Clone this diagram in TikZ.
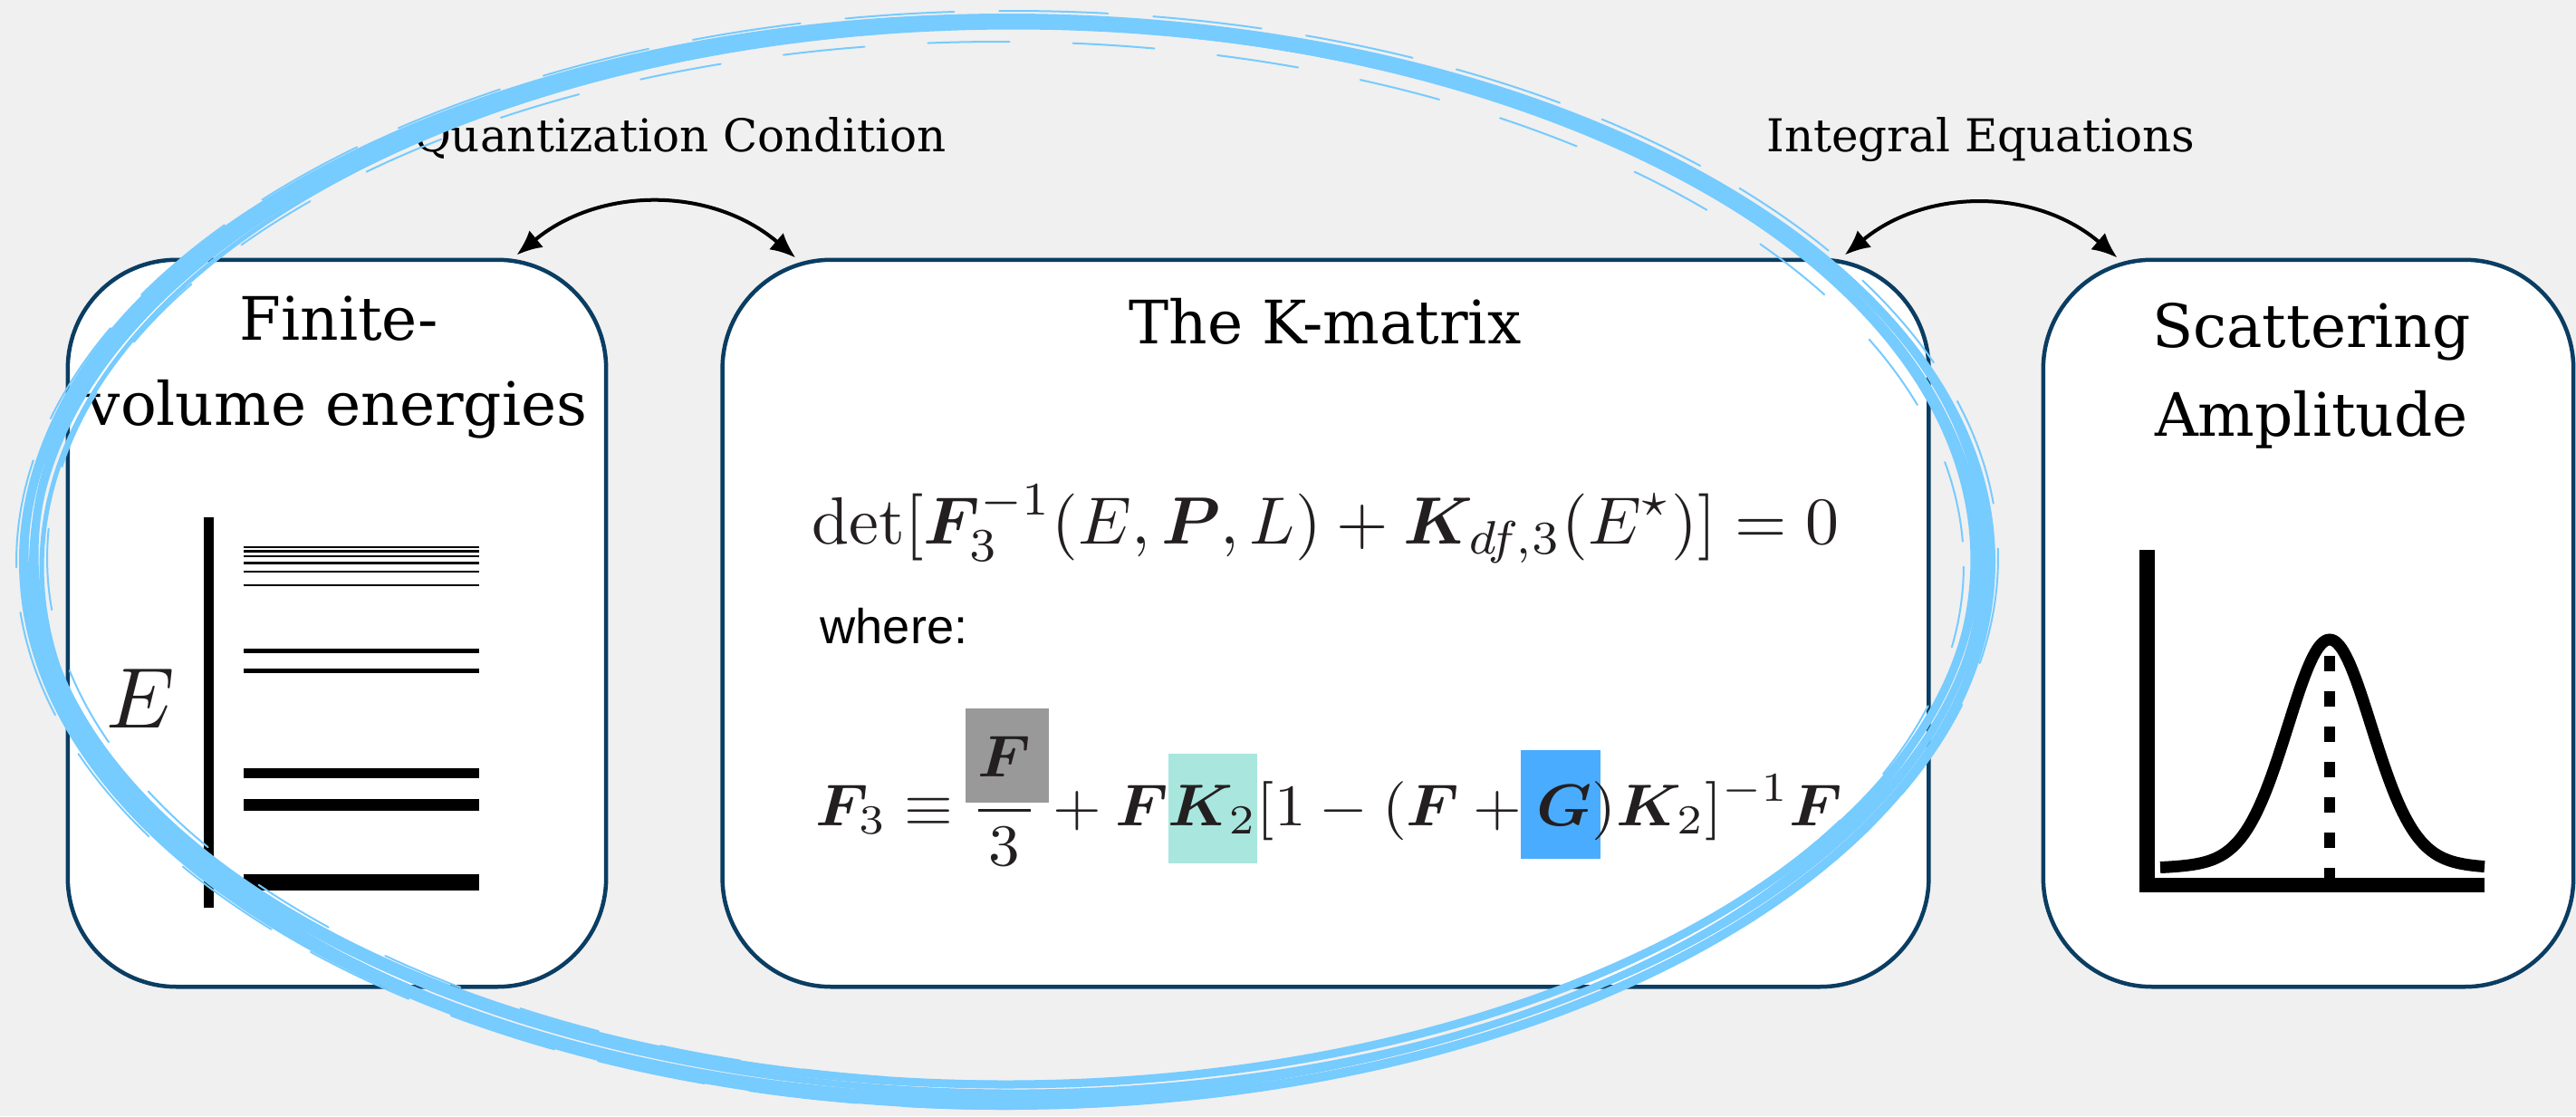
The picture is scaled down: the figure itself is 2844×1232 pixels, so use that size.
\documentclass[tikz,border=0pt]{standalone}
\usepackage{graphicx}
\usepackage{amsmath}
\usepackage{bm}
\usepackage{fontspec}
\newfontfamily\serifdv{DejaVu Serif}
\newfontfamily\sanslib{Liberation Sans}
\usetikzlibrary{arrows.meta}
\definecolor{bg}{RGB}{240,240,240}
\definecolor{boxline}{RGB}{10,61,98}
\definecolor{hlgray}{RGB}{153,153,153}
\definecolor{hlteal}{RGB}{168,230,222}
\definecolor{hlblue}{RGB}{74,172,255}
\definecolor{ringblue}{RGB}{118,203,255}
\definecolor{eqink}{RGB}{35,31,32}
% #1 colour, #2 left extension, #3 right extension, #4 depth, #5 height, #6 content
\newcommand\hlbg[6]{{\setbox0=\hbox{$\displaystyle#6$}\rlap{\kern-#2\textcolor{#1}{\rule[-#4]{\dimexpr\wd0+#2+#3\relax}{\dimexpr#4+#5\relax}}}\box0}}
\begin{document}
\begin{tikzpicture}[x=0.01cm, y=-0.01cm,
  box/.style={draw=boxline, line width=0.045cm, fill=white, rounded corners=1.2cm, inner sep=0pt, minimum height=8.02cm},
  title/.style={font=\serifdv\fontsize{18.8}{22}\selectfont, anchor=base, inner sep=0pt},
  linklabel/.style={font=\serifdv\fontsize{14.2}{17}\selectfont, anchor=base, inner sep=0pt},
  link/.style={{Latex[length=0.28cm,width=0.24cm]}-{Latex[length=0.28cm,width=0.24cm]}, line width=0.04cm, bend left=40},
  ring/.style={draw=ringblue, line cap=round},
  eq/.style={anchor=base west, inner sep=0pt, text=eqink}]
\fill[bg] (0,0) rectangle (2844,1232);
\useasboundingbox (0,0) rectangle (2844,1232);

% boxes
\node[box, minimum width=5.94cm] (fv) at (372,688) {};
\node[box, minimum width=13.31cm] (km) at (1463.5,688) {};
\node[box, minimum width=5.85cm] (sa) at (2548.5,688) {};

% titles
\node[title] (fvt1) at (374,375) {Finite-};
\node[title] (fvt2) at (372,469) {volume energies};
\node[title] (kmt) at (1463,379) {The K-matrix};
\node[title] (sat1) at (2552,383) {Scattering};
\node[title] (sat2) at (2552,481) {Amplitude};

% link labels and arrows
\node[linklabel] (qcl) at (751,167) {Quantization Condition};
\node[linklabel] (iel) at (2187,167) {Integral Equations};
\draw[link] ([xshift=-1.01cm,yshift=0.03cm]fv.north east) to ([xshift=0.83cm]km.north west);
\draw[link] ([xshift=-0.95cm,yshift=0.03cm]km.north east) to ([xshift=0.84cm]sa.north west);

% finite-volume energy levels
\node[anchor=base, inner sep=0pt, text=eqink] (elab) at (155,803) {\scalebox{2.7}{$E$}};
\draw[line width=0.11cm] (230.5,571) -- (230.5,1002);
\foreach \yy/\ww in {604/0.024, 608.5/0.024, 614/0.024, 621.5/0.024, 631/0.024, 646/0.024, 718/0.05, 740.5/0.05, 853.5/0.11, 888/0.13, 974/0.186}
  \draw[line width=\ww cm] (269,\yy) -- (529,\yy);

% K-matrix equations
\node[eq] (eq1) at (896,600)
  {\scalebox{2.1}{$\displaystyle \det[\bm{F}_3^{-1}(E,\bm{P},L)+\bm{K}_{df,3}(E^\star)]=0$}};
\node[anchor=base west, inner sep=0pt, font=\sanslib\fontsize{15.4}{18}\selectfont] (where) at (905,710) {where:};
\node[eq] (eq2) at (900,911)
  {\scalebox{1.965}[1.85]{$\displaystyle \bm{F}_3 \equiv \frac{\hlbg{hlgray}{0.07cm}{0.1cm}{0.151cm}{0.41cm}{\bm{F}}}{3} + \bm{F}\hlbg{hlteal}{0cm}{0cm}{0.227cm}{0.427cm}{\bm{K}_2}[1-(\bm{F}+\hlbg{hlblue}{0.086cm}{0.05cm}{0.2cm}{0.449cm}{\bm{G}})\bm{K}_2]^{-1}\bm{F}$}};

% scattering amplitude plot
\draw[line width=0.165cm] (2370.5,607) -- (2370.5,977) -- (2743,977);
\draw[line width=0.13cm] plot[domain=2385:2743, samples=160, variable=\t]
  (\t, {962 - 256*(0.84*exp(-0.5*((\t-2572)/47)^2) + 0.16/(1+((\t-2572)/65)^2))});
\draw[line width=0.115cm, dash pattern=on 0.17cm off 0.22cm] (2572,724) -- (2572,969);

% hand-drawn ring
\draw[ring, line width=0.1cm] (1112,620) ellipse [x radius=1086, y radius=600];
\draw[ring, line width=0.09cm] (1110,612) ellipse [x radius=1072, y radius=585];
\draw[ring, line width=0.08cm] (1114,618) ellipse [x radius=1078, y radius=594, rotate=0.5];
\draw[ring, line width=0.07cm] (1108,616) ellipse [x radius=1080, y radius=590, rotate=-0.5];
\draw[ring, line width=0.05cm] (1112,622) ellipse [x radius=1066, y radius=592, rotate=0.3];
\draw[ring, line width=0.02cm, dash pattern=on 1.2cm off 0.5cm] (1112,618) ellipse [x radius=1094, y radius=606, rotate=0.2];
\draw[ring, line width=0.02cm, dash pattern=on 0.9cm off 0.7cm] (1110,620) ellipse [x radius=1058, y radius=574, rotate=-0.3];
\end{tikzpicture}
\end{document}
